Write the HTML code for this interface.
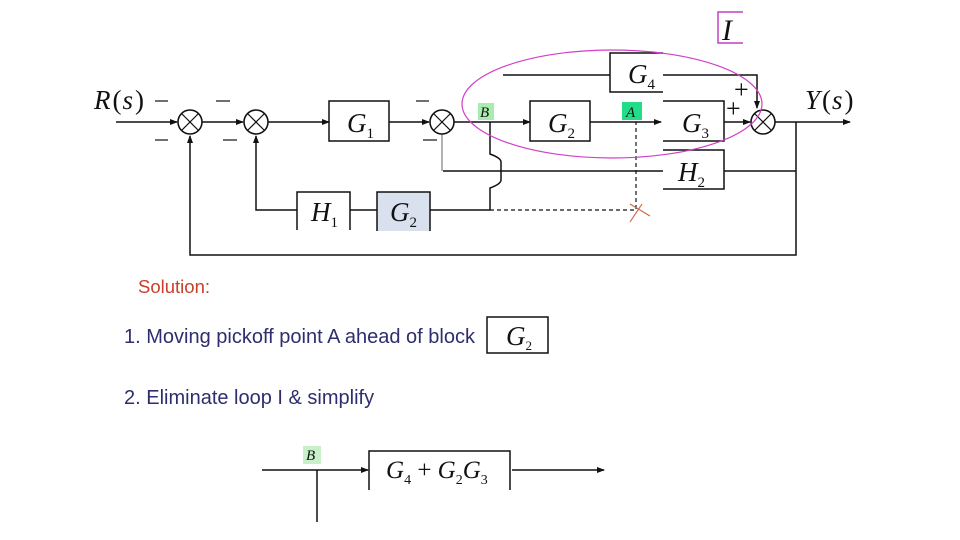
<!DOCTYPE html>
<html><head><meta charset="utf-8"><style>
html,body{margin:0;padding:0;background:#fff;}
svg{display:block;}
.m{font-family:"Liberation Serif",serif;font-style:italic;font-size:27px;fill:#111;}
.s{font-family:"Liberation Serif",serif;font-size:15px;fill:#111;}
.t{font-family:"Liberation Sans",sans-serif;font-size:20px;}
</style></head><body>
<svg width="960" height="540" viewBox="0 0 960 540" xmlns="http://www.w3.org/2000/svg">
<defs>
<marker id="ar" markerWidth="8" markerHeight="8" refX="7" refY="4" orient="auto" markerUnits="userSpaceOnUse"><path d="M0,1 L8,4 L0,7 z" fill="#111"/></marker>
<g id="sum"><circle r="12" fill="#fff" stroke="#111" stroke-width="1.6"/><line x1="-8.5" y1="-8.5" x2="8.5" y2="8.5" stroke="#111" stroke-width="1.2"/><line x1="-8.5" y1="8.5" x2="8.5" y2="-8.5" stroke="#111" stroke-width="1.2"/></g>
</defs>
<g stroke="#111" stroke-width="1.5" fill="none">
<line x1="116" y1="122" x2="177" y2="122" marker-end="url(#ar)"/>
<line x1="202" y1="122" x2="243" y2="122" marker-end="url(#ar)"/>
<line x1="268" y1="122" x2="329" y2="122" marker-end="url(#ar)"/>
<line x1="389" y1="122" x2="429" y2="122" marker-end="url(#ar)"/>
<line x1="454" y1="122" x2="530" y2="122" marker-end="url(#ar)"/>
<line x1="590" y1="122" x2="661" y2="122" marker-end="url(#ar)"/>
<line x1="724" y1="122" x2="750" y2="122" marker-end="url(#ar)"/>
<line x1="775" y1="122" x2="850" y2="122" marker-end="url(#ar)"/>
<rect x="329" y="101" width="60" height="40"/>
<rect x="530" y="101" width="60" height="40"/>
<path d="M663,101 H724 V141 H663"/>
<path d="M663,53 H610 V92 H663"/>
<path d="M663,150 H724 V189 H663"/>
<path d="M297,230 V192 H350 V230"/>
<line x1="503" y1="75" x2="610" y2="75"/>
<path d="M663,75 H757 V108" marker-end="url(#ar)"/>
<line x1="724" y1="171" x2="796" y2="171"/>
<line x1="443" y1="171" x2="663" y2="171"/>
<line x1="442" y1="134" x2="442" y2="171" stroke="#999"/>
<path d="M796,122 V255 H190 V136" marker-end="url(#ar)"/>
<path d="M490,122 V154 Q501,158 501,162 V180 Q501,184 490,188 V210 H430"/>
<line x1="350" y1="210" x2="377" y2="210"/>
<path d="M297,210 H256 V136" marker-end="url(#ar)"/>
<path d="M490,210 H636 V122" stroke-dasharray="4,3" stroke-width="1.2"/>
<line x1="262" y1="470" x2="368" y2="470" marker-end="url(#ar)"/>
<line x1="317" y1="470" x2="317" y2="522"/>
<path d="M369,490 V451 H510 V490"/>
<line x1="512" y1="470" x2="604" y2="470" marker-end="url(#ar)"/>
<rect x="487" y="317" width="61" height="36"/>
</g>
<rect x="377" y="192" width="53" height="40" fill="#d9e1ee" stroke="#111" stroke-width="1.5"/>
<rect x="370" y="231" width="66" height="10" fill="#fff"/>
<rect x="290" y="231" width="66" height="10" fill="#fff"/>
<use href="#sum" x="190" y="122"/><use href="#sum" x="256" y="122"/>
<use href="#sum" x="442" y="122"/><use href="#sum" x="763" y="122"/>
<g stroke="#111" stroke-width="1.2">
<line x1="155" y1="101" x2="168" y2="101"/><line x1="155" y1="140" x2="168" y2="140"/>
<line x1="216" y1="101" x2="230" y2="101"/><line x1="223" y1="140" x2="237" y2="140"/>
<line x1="416" y1="101" x2="429" y2="101"/><line x1="423" y1="140" x2="437" y2="140"/>
</g>
<text x="734" y="98" class="s" style="font-size:26px">+</text>
<text x="726" y="117" class="s" style="font-size:26px">+</text>
<ellipse cx="612" cy="104" rx="150" ry="54" fill="none" stroke="#d040c8" stroke-width="1.2"/>
<path d="M743,12 H718 V43 H743" fill="none" stroke="#c040c0" stroke-width="1.5"/>
<text x="722" y="40" class="m" style="font-size:30px">I</text>
<g stroke="#d06040" stroke-width="1.1"><line x1="630" y1="204" x2="650" y2="216"/><line x1="642" y1="204" x2="630" y2="222"/></g>
<rect x="478" y="103" width="16" height="17" fill="#a8ecb0"/>
<text x="480" y="117" class="s" font-style="italic">B</text>
<rect x="622" y="102" width="20" height="18" fill="#22dd88"/>
<text x="626" y="117" class="s" font-style="italic">A</text>
<rect x="303" y="446" width="18" height="18" fill="#c8f0c8"/>
<text x="306" y="460" class="s" font-style="italic">B</text>
<text x="94" y="109" class="m" style="font-size:27px">R<tspan font-style="normal" dx="2">(</tspan><tspan dx="1">s</tspan><tspan font-style="normal" dx="2">)</tspan></text>
<text x="805" y="109" class="m" style="font-size:27px">Y<tspan font-style="normal" dx="2">(</tspan><tspan dx="1">s</tspan><tspan font-style="normal" dx="2">)</tspan></text>
<text x="347" y="132" class="m">G<tspan font-size="15" dy="6" font-style="normal">1</tspan></text>
<text x="548" y="132" class="m">G<tspan font-size="15" dy="6" font-style="normal">2</tspan></text>
<text x="682" y="132" class="m">G<tspan font-size="15" dy="6" font-style="normal">3</tspan></text>
<text x="628" y="83" class="m">G<tspan font-size="15" dy="6" font-style="normal">4</tspan></text>
<text x="678" y="181" class="m">H<tspan font-size="15" dy="6" font-style="normal">2</tspan></text>
<text x="311" y="221" class="m">H<tspan font-size="15" dy="6" font-style="normal">1</tspan></text>
<text x="390" y="221" class="m">G<tspan font-size="15" dy="6" font-style="normal">2</tspan></text>
<text x="506" y="345" class="m">G<tspan font-size="13" dy="5" font-style="normal">2</tspan></text>
<text x="386" y="478" class="m" style="font-size:25px">G<tspan font-size="14" dy="6" font-style="normal">4</tspan><tspan dy="-6" font-style="normal"> + </tspan>G<tspan font-size="14" dy="6" font-style="normal">2</tspan><tspan dy="-6">G</tspan><tspan font-size="14" dy="6" font-style="normal">3</tspan></text>
<text x="138" y="293" class="t" fill="#c8402a" style="font-size:18.5px">Solution:</text>
<text x="124" y="343" class="t" fill="#2e2e6e">1. Moving pickoff point A ahead of block</text>
<text x="124" y="404" class="t" fill="#2e2e6e">2. Eliminate loop I &amp; simplify</text>
</svg>
</body></html>
